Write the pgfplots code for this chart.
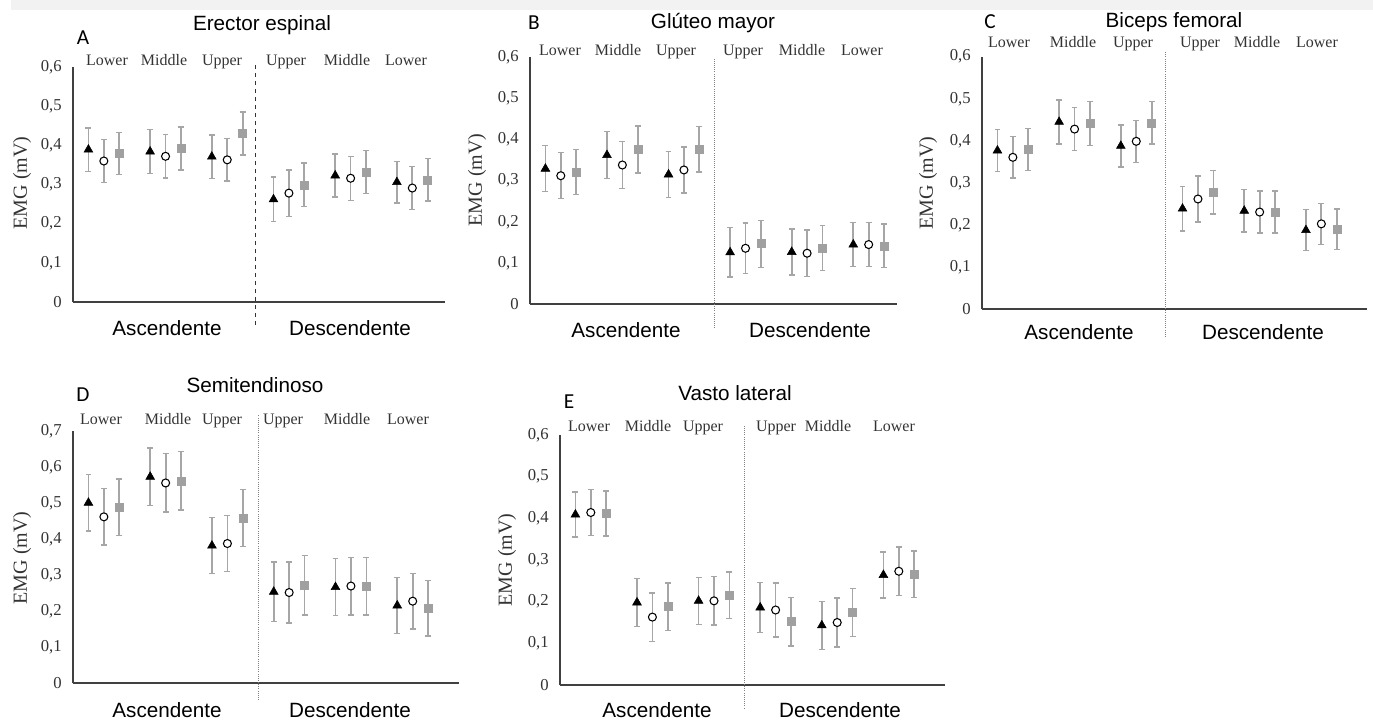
\documentclass[border=0pt]{standalone}
\usepackage{fontspec}
\setmainfont{Liberation Serif}
\newfontfamily\arial{Liberation Sans}
\newfontfamily\calib{Carlito}
\usepackage{pgfplots}
\usepackage{pgfplotstable}
\pgfplotsset{compat=1.18}

\definecolor{ebar}{HTML}{A6A6A6}
\definecolor{sqgray}{HTML}{A0A0A0}
\definecolor{axline}{HTML}{404040}

% g = group (0..2 ascendente, 3..5 descendente); tri / cir / sq series with SD
\pgfplotstableread{
g ytri etri ycir ecir ysq esq
0 0.389 0.055 0.360 0.055 0.379 0.053
1 0.384 0.056 0.372 0.055 0.392 0.055
2 0.371 0.055 0.363 0.054 0.430 0.055
3 0.262 0.057 0.278 0.059 0.299 0.056
4 0.323 0.055 0.316 0.056 0.332 0.055
5 0.306 0.053 0.291 0.055 0.312 0.054
}\dataA
\pgfplotstableread{
g ytri etri ycir ecir ysq esq
0 0.329 0.056 0.312 0.056 0.321 0.055
1 0.362 0.057 0.338 0.057 0.376 0.057
2 0.315 0.056 0.326 0.056 0.376 0.055
3 0.126 0.060 0.136 0.061 0.147 0.057
4 0.127 0.056 0.124 0.056 0.137 0.055
5 0.145 0.054 0.145 0.053 0.142 0.053
}\dataB
\pgfplotstableread{
g ytri etri ycir ecir ysq esq
0 0.377 0.050 0.361 0.049 0.380 0.050
1 0.445 0.052 0.428 0.051 0.441 0.052
2 0.388 0.050 0.399 0.050 0.443 0.050
3 0.239 0.053 0.262 0.055 0.278 0.052
4 0.234 0.050 0.231 0.050 0.231 0.050
5 0.188 0.049 0.203 0.049 0.190 0.048
}\dataC
\pgfplotstableread{
g ytri etri ycir ecir ysq esq
0 0.501 0.078 0.462 0.078 0.489 0.078
1 0.573 0.080 0.556 0.081 0.562 0.081
2 0.382 0.078 0.388 0.078 0.459 0.079
3 0.254 0.083 0.252 0.085 0.272 0.082
4 0.267 0.079 0.270 0.080 0.270 0.080
5 0.216 0.078 0.228 0.077 0.208 0.077
}\dataD
\pgfplotstableread{
g ytri etri ycir ecir ysq esq
0 0.409 0.054 0.414 0.055 0.412 0.054
1 0.198 0.057 0.163 0.058 0.188 0.057
2 0.202 0.056 0.202 0.058 0.215 0.056
3 0.186 0.060 0.180 0.065 0.152 0.058
4 0.143 0.057 0.150 0.059 0.174 0.057
5 0.264 0.055 0.273 0.058 0.266 0.056
}\dataE

\pgfplotsset{
  panel/.style={
    scale only axis, anchor=south west, clip=false,
    axis x line*=bottom, axis y line*=left,
    axis line style={line width=1.5pt, axline, -},
    xmin=-0.5, ymin=0, xtick=\empty,
    ytick distance=0.1,
    ytick style={draw=none},
    yticklabel style={font=\fontsize{12.5}{14}\selectfont, text=black!80, xshift=-5pt,
      /pgf/number format/use comma, /pgf/number format/fixed,
      /pgf/number format/assume math mode=true},
  },
  errs/.style={only marks,
    error bars/y dir=both, error bars/y explicit,
    error bars/error bar style={line width=1.3pt, ebar},
    error bars/error mark options={rotate=90, mark size=2.2pt, line width=1pt, ebar}},
  tri/.style={errs, mark=triangle*, mark size=3.8pt, mark options={fill=black, draw=black}},
  cir/.style={errs, mark=*, mark size=3pt, mark options={fill=white, draw=black, line width=0.8pt}},
  sq/.style={errs, mark=square*, mark size=3pt, mark options={fill=sqgray, draw=sqgray}},
}
\newcommand\series[1]{%
  \addplot[tri] table[x expr=\thisrow{g}-0.25, y=ytri, y error=etri]{#1};
  \addplot[cir] table[x=g, y=ycir, y error=ecir]{#1};
  \addplot[sq] table[x expr=\thisrow{g}+0.25, y=ysq, y error=esq]{#1};
}
\newcommand\titlefont{\arial\fontsize{15.5}{17}\selectfont}
\newcommand\catfont{\fontsize{12}{13}\selectfont\color{black!80}}
\newcommand\emglabel[2]{\node[rotate=90, font=\fontsize{15}{16}\selectfont, text=black!80] at (#1,#2) {EMG (mV)};}

\begin{document}
\begin{tikzpicture}
\path[use as bounding box] (0,0) rectangle (1029.75pt,-543pt);
\fill[black!5] (8.25pt,0) rectangle (1029.75pt,-7.5pt);

% A
\begin{axis}[panel, at={(54.75pt,-226.5pt)}, width=279pt, height=176.25pt, xmax=5.53, ymax=0.6]
  \series{\dataA}
  \draw[dashed, line width=1.2pt, black!80] (axis cs:2.46,-0.059) -- (axis cs:2.46,0.613);
\end{axis}
% B
\begin{axis}[panel, at={(397.5pt,-228.25pt)}, width=275.25pt, height=185.5pt, xmax=5.46, ymax=0.6]
  \series{\dataB}
  \draw[densely dotted, line width=0.6pt, black!50] (axis cs:2.5,-0.058) -- (axis cs:2.5,0.596);
\end{axis}
% C
\begin{axis}[panel, at={(736.5pt,-232pt)}, width=288.75pt, height=189.5pt, xmax=5.74, ymax=0.6]
  \series{\dataC}
  \draw[densely dotted, line width=0.6pt, black!50] (axis cs:2.48,-0.065) -- (axis cs:2.48,0.612);
\end{axis}
% D
\begin{axis}[panel, at={(54.75pt,-512.5pt)}, width=289.5pt, height=189.2pt, xmax=5.75, ymax=0.7]
  \series{\dataD}
  \draw[densely dotted, line width=0.6pt, black!50] (axis cs:2.5,-0.046) -- (axis cs:2.5,0.744);
\end{axis}
% E
\begin{axis}[panel, at={(420pt,-513.75pt)}, width=288.75pt, height=187.5pt, xmax=5.75, ymax=0.6]
  \series{\dataE}
  \draw[densely dotted, line width=0.6pt, black!50] (axis cs:2.5,-0.056) -- (axis cs:2.5,0.624);
\end{axis}

\begin{scope}[x=0.75pt, y=-0.75pt]
  % titles
  \node[font=\titlefont] at (262,25) {Erector espinal};
  \node[font=\titlefont] at (713,23) {Glúteo mayor};
  \node[font=\titlefont] at (1174,22) {Biceps femoral};
  \node[font=\titlefont] at (255,385) {Semitendinoso};
  \node[font=\titlefont] at (735,393) {Vasto lateral};
  % panel letters
  \node[font=\calib\fontsize{16}{17}\selectfont] at (83,38) {A};
  \node[font=\calib\fontsize{16}{17}\selectfont] at (534,23) {B};
  \node[font=\calib\fontsize{16}{17}\selectfont] at (990,22) {C};
  \node[font=\calib\fontsize{16}{17}\selectfont] at (83,395) {D};
  \node[font=\calib\fontsize{16}{17}\selectfont] at (569,402) {E};
  % y labels
  \emglabel{22}{183}
  \emglabel{477}{180}
  \emglabel{928}{183}
  \emglabel{22}{558}
  \emglabel{507}{560}
  % position labels
  \tikzset{cat/.style={font=\catfont, text height=1.6ex, text depth=0.5ex}}
  \foreach \x/\t in {107/Lower,164/Middle,222/Upper,286/Upper,347/Middle,406/Lower}
    \node[cat] at (\x,62) {\t};
  \foreach \x/\t in {560/Lower,618/Middle,676/Upper,743/Upper,802/Middle,862/Lower}
    \node[cat] at (\x,52) {\t};
  \foreach \x/\t in {1009/Lower,1073/Middle,1133/Upper,1200/Upper,1257/Middle,1317/Lower}
    \node[cat] at (\x,44) {\t};
  \foreach \x/\t in {101/Lower,168/Middle,222/Upper,283/Upper,347/Middle,408/Lower}
    \node[cat] at (\x,421) {\t};
  \foreach \x/\t in {589/Lower,648/Middle,703/Upper,776/Upper,828/Middle,894/Lower}
    \node[cat] at (\x,428) {\t};
  % direction labels
  \foreach \x/\y/\t in {167/328/Ascendente,350/328/Descendente,
                        626/330/Ascendente,810/330/Descendente,
                        1079/332/Ascendente,1263/332/Descendente,
                        167/710/Ascendente,350/710/Descendente,
                        657/710/Ascendente,840/710/Descendente}
    \node[font=\titlefont] at (\x,\y) {\t};
\end{scope}
\end{tikzpicture}
\end{document}
